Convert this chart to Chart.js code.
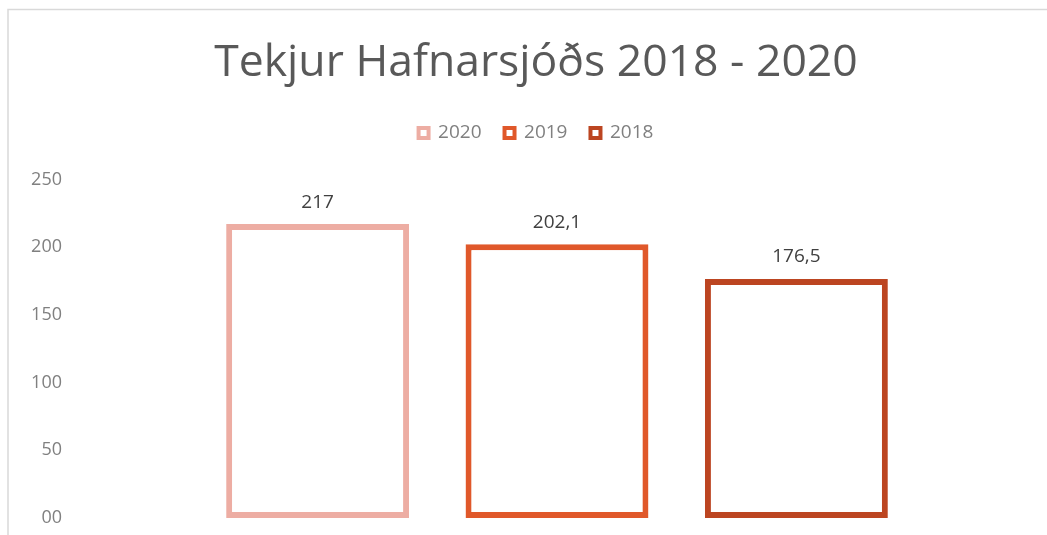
<!DOCTYPE html>
<html>
<head>
<meta charset="utf-8">
<script src="https://cdn.jsdelivr.net/npm/chart.js@4/dist/chart.umd.min.js"></script>
<style>
  html, body { margin: 0; padding: 0; background: #fff; overflow: hidden; }
  #wrap { width: 1047px; height: 535px; position: relative; }
</style>
</head>
<body>
<div id="wrap"><canvas id="chart"></canvas></div>
<script>
var categories = [''];
var seriesNames = ['2020', '2019', '2018'];
var seriesValues = [217, 202.1, 176.5];
var seriesColors = ['#EDADA3', '#E0582A', '#BC4521'];
var yTickLabels = ['00', '50', '100', '150', '200', '250'];

// frame of the excel chart (only top and left edges are visible)
var framePlugin = {
  id: 'frame',
  beforeDraw: function(chart) {
    var ctx = chart.ctx;
    ctx.save();
    ctx.strokeStyle = '#d9d9d9';
    ctx.lineWidth = 1.5;
    ctx.beginPath();
    ctx.moveTo(8, chart.height + 5);
    ctx.lineTo(8, 9.5);
    ctx.lineTo(chart.width + 5, 9.5);
    ctx.stroke();
    ctx.restore();
  }
};

// extra room under the legend
var legendGap = {
  id: 'legendGap',
  beforeInit: function(chart) {
    var fit = chart.legend.fit;
    chart.legend.fit = function() {
      fit.bind(chart.legend)();
      this.height += 27;
    };
  }
};

// value labels above the bars
var valueLabels = {
  id: 'valueLabels',
  afterDatasetsDraw: function(chart) {
    var ctx = chart.ctx;
    ctx.save();
    ctx.font = '19px "Open Sans"';
    ctx.fillStyle = '#404040';
    ctx.textAlign = 'center';
    ctx.textBaseline = 'middle';
    chart.data.datasets.forEach(function(ds, i) {
      var meta = chart.getDatasetMeta(i);
      meta.data.forEach(function(bar, j) {
        var txt = String(ds.data[j]).replace('.', ',');
        ctx.fillText(txt, bar.x, bar.y - 22);
      });
    });
    ctx.restore();
  }
};

var datasets = seriesNames.map(function(name, i) {
  return {
    label: name,
    data: [seriesValues[i]],
    backgroundColor: '#ffffff',
    borderColor: seriesColors[i],
    borderWidth: 6,
    borderSkipped: false,
    categoryPercentage: 0.745,
    barPercentage: 0.764
  };
});

var ctx = document.getElementById('chart');
new Chart(ctx, {
  type: 'bar',
  data: { labels: categories, datasets: datasets },
  options: {
    responsive: true,
    maintainAspectRatio: false,
    animation: false,
    layout: { padding: { top: 29, left: 25, right: 0, bottom: 17 } },
    plugins: {
      title: {
        display: true,
        text: 'Tekjur Hafnarsjóðs 2018 - 2020',
        color: '#595959',
        font: { family: '"Open Sans"', size: 44.5, weight: 'normal' },
        padding: { top: 8, bottom: 10 }
      },
      legend: {
        display: true,
        position: 'top',
        labels: {
          boxWidth: 10,
          boxHeight: 10,
          padding: 23,
          color: '#808080',
          font: { family: '"Open Sans"', size: 19 },
          generateLabels: function(chart) {
            return chart.data.datasets.map(function(ds, i) {
              return {
                text: ds.label,
                fillStyle: '#ffffff',
                strokeStyle: ds.borderColor,
                lineWidth: 4,
                hidden: false,
                datasetIndex: i,
                fontColor: '#808080'
              };
            });
          }
        }
      },
      tooltip: { enabled: false }
    },
    scales: {
      x: {
        display: false,
        grid: { display: false }
      },
      y: {
        min: 0,
        max: 250,
        grid: { display: false, drawTicks: true, tickLength: 10 },
        border: { display: false },
        afterFit: function(scale) { scale.width = 50; },
        ticks: {
          stepSize: 50,
          padding: 3,
          color: '#808080',
          font: { family: '"Open Sans"', size: 18 },
          callback: function(value, index) { return yTickLabels[index]; }
        }
      },
      yRight: {
        position: 'right',
        display: true,
        grid: { display: false, drawTicks: false },
        border: { display: false },
        ticks: { display: false },
        afterFit: function(scale) { scale.width = 8; }
      }
    }
  },
  plugins: [framePlugin, legendGap, valueLabels]
});
</script>
</body>
</html>
